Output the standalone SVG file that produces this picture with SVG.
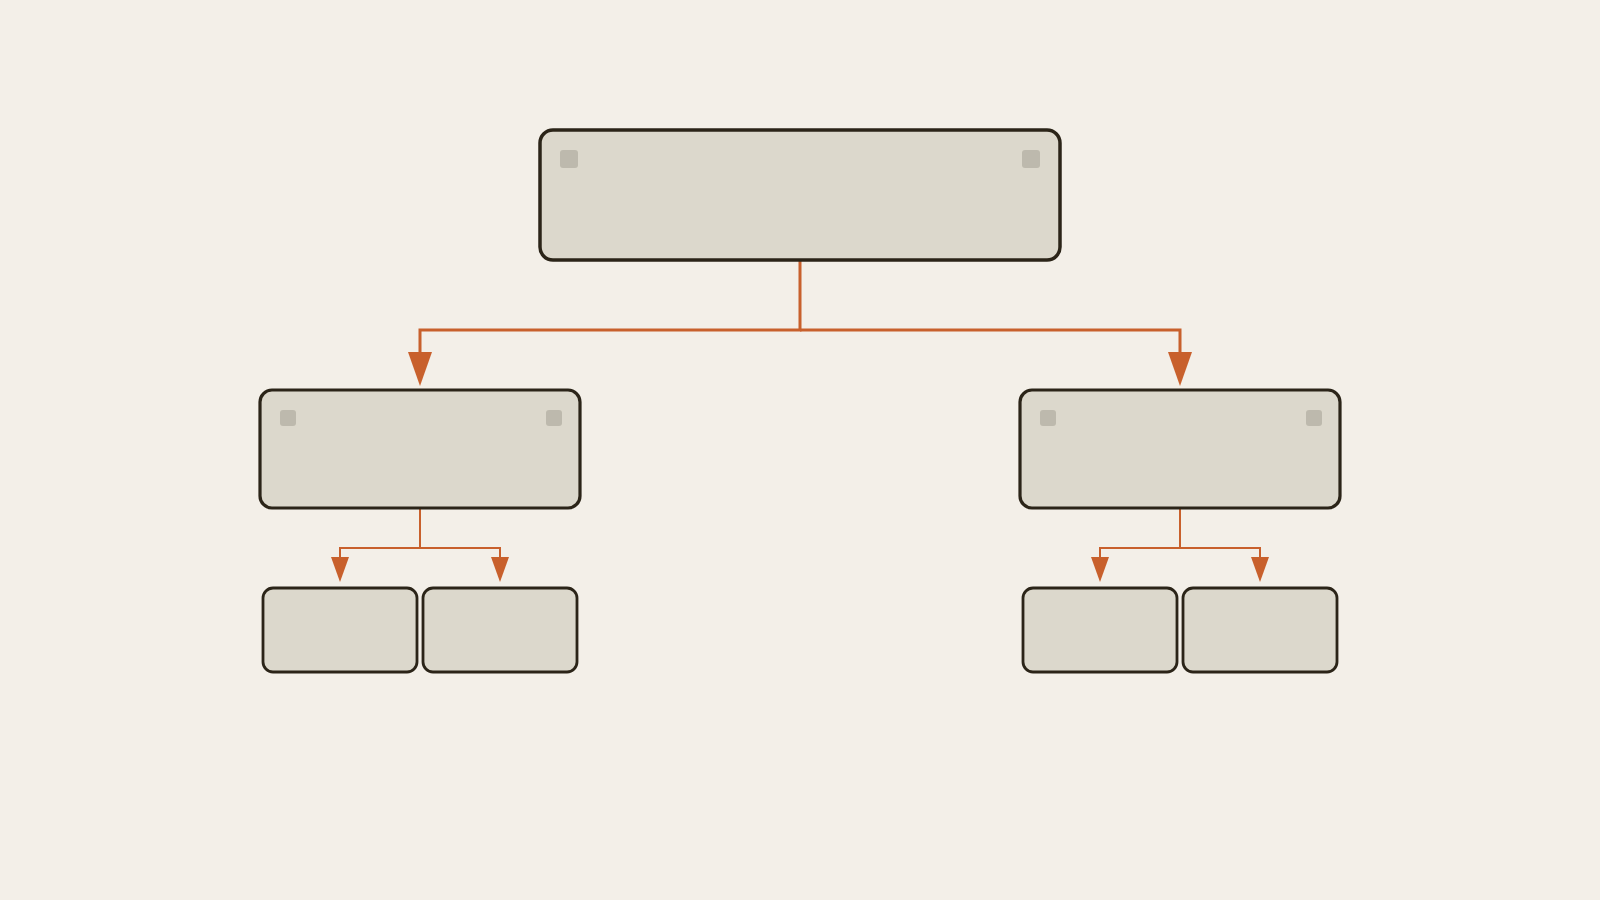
<svg xmlns="http://www.w3.org/2000/svg" width="1600" height="900" viewBox="0 0 1600 900">
<defs>
<style>
.node{fill:#dcd8cc;stroke:#2b2418}
.n1{stroke-width:3.5}
.n2{stroke-width:3.2}
.n3{stroke-width:2.8}
.sq{fill:#bdb9ad}
.conn{fill:none;stroke:#c8602c}
.c1{stroke-width:3}
.c2{stroke-width:2}
</style>
<marker id="arrowBig" markerUnits="userSpaceOnUse" markerWidth="34" markerHeight="24" refX="0" refY="12" orient="auto" viewBox="0 0 34 24">
<path d="M0,0 L34,12 L0,24 Z" fill="#c8602c"/>
</marker>
<marker id="arrowSmall" markerUnits="userSpaceOnUse" markerWidth="25" markerHeight="18" refX="0" refY="9" orient="auto" viewBox="0 0 25 18">
<path d="M0,0 L25,9 L0,18 Z" fill="#c8602c"/>
</marker>
</defs>
<rect width="1600" height="900" fill="#f3efe8"/>
<g id="connectors">
<path class="conn c1" d="M800,260 V330 H420 V352" marker-end="url(#arrowBig)"/>
<path class="conn c1" d="M800,330 H1180 V352" marker-end="url(#arrowBig)"/>
<path class="conn c2" d="M420,508 V548 H340 V557" marker-end="url(#arrowSmall)"/>
<path class="conn c2" d="M420,548 H500 V557" marker-end="url(#arrowSmall)"/>
<path class="conn c2" d="M1180,508 V548 H1100 V557" marker-end="url(#arrowSmall)"/>
<path class="conn c2" d="M1180,548 H1260 V557" marker-end="url(#arrowSmall)"/>
</g>
<g id="root">
<rect class="node n1" x="540" y="130" width="520" height="130" rx="13"/>
<rect class="sq" x="560" y="150" width="18" height="18" rx="3"/>
<rect class="sq" x="1022" y="150" width="18" height="18" rx="3"/>
</g>
<g id="mid-left">
<rect class="node n2" x="260" y="390" width="320" height="118" rx="12"/>
<rect class="sq" x="280" y="410" width="16" height="16" rx="3"/>
<rect class="sq" x="546" y="410" width="16" height="16" rx="3"/>
</g>
<g id="mid-right">
<rect class="node n2" x="1020" y="390" width="320" height="118" rx="12"/>
<rect class="sq" x="1040" y="410" width="16" height="16" rx="3"/>
<rect class="sq" x="1306" y="410" width="16" height="16" rx="3"/>
</g>
<g id="leaf-1">
<rect class="node n3" x="263" y="588" width="154" height="84" rx="10"/>
</g>
<g id="leaf-2">
<rect class="node n3" x="423" y="588" width="154" height="84" rx="10"/>
</g>
<g id="leaf-3">
<rect class="node n3" x="1023" y="588" width="154" height="84" rx="10"/>
</g>
<g id="leaf-4">
<rect class="node n3" x="1183" y="588" width="154" height="84" rx="10"/>
</g>
</svg>
